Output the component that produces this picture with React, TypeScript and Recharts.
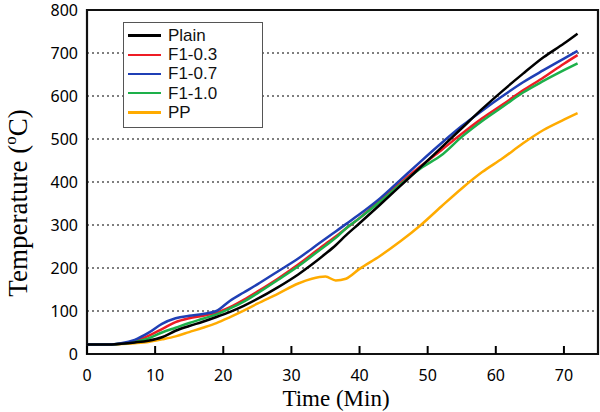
import React from "react";
import {
  CartesianGrid,
  Label,
  Legend,
  Line,
  LineChart,
  ReferenceArea,
  XAxis,
  YAxis,
} from "recharts";

// furnace time in minutes
const minutes = [
  0, 3, 5, 7, 9, 11, 13, 15, 17, 19, 21, 23, 25, 28, 31, 33, 35, 36.5, 38, 40,
  43, 46, 49, 52, 55, 58, 61, 64, 67, 70, 72,
];

// temperatures in °C
const plain = [
  22, 22, 24, 27, 31, 39, 54, 65, 75, 86, 98, 112, 128, 155, 185, 208, 233, 253,
  276, 304, 347, 391, 435, 480, 525, 570, 612, 652, 690, 722, 745,
];
const f103 = [
  22, 22, 24, 30, 42, 58, 74, 83, 89, 96, 109, 126, 145, 175, 208, 232, 256, 273,
  292, 316, 358, 398, 437, 474, 512, 548, 580, 613, 643, 675, 695,
];
const f107 = [
  22, 22, 25, 33, 49, 70, 83, 89, 93, 100, 124, 143, 162, 192, 222, 245, 268, 285,
  302, 325, 362, 405, 448, 490, 530, 566, 600, 632, 660, 687, 705,
];
const f110 = [
  22, 22, 24, 28, 36, 50, 61, 72, 82, 92, 106, 122, 141, 172, 204, 228, 252, 270,
  292, 316, 354, 394, 432, 462, 505, 542, 575, 608, 635, 660, 676,
];
const pp = [
  22, 22, 23, 25, 28, 34, 41, 51, 61, 72, 86, 101, 117, 140, 164, 175, 180, 171,
  175, 198, 228, 262, 300, 343, 385, 423, 455, 490, 521, 545, 560,
];

const series = [
  { name: "Plain", values: plain, color: "#000000" },
  { name: "F1-0.3", values: f103, color: "#ee1c25" },
  { name: "F1-0.7", values: f107, color: "#1f3fb5" },
  { name: "F1-1.0", values: f110, color: "#1db04a" },
  { name: "PP", values: pp, color: "#ffab00" },
];

// drawing order: PP underneath, Plain on top
const drawOrder = ["PP", "F1-0.3", "F1-1.0", "F1-0.7", "Plain"];

const xTicks = [0, 10, 20, 30, 40, 50, 60, 70];
const yTicks = [0, 100, 200, 300, 400, 500, 600, 700, 800];

const chartData = minutes.map((t, i) => {
  const row: Record<string, number> = { t };
  series.forEach((s) => {
    row[s.name] = s.values[i];
  });
  return row;
});

const tickFont = "'Noto Sans', sans-serif";
const titleFont = "'Liberation Serif', 'Times New Roman', serif";

const TimeTick = (props: any) => {
  const { x, y, payload } = props;
  return (
    <g>
      <line x1={x} x2={x} y1={y} y2={y - 8} stroke="#000" strokeWidth={2} />
      <text
        x={x}
        y={y + 27}
        textAnchor="middle"
        fontSize={16}
        fontFamily={tickFont}
        fill="#000"
      >
        {payload.value}
      </text>
    </g>
  );
};

const LegendBox = () => (
  <div
    style={{
      border: "1px solid #555",
      background: "#fff",
      padding: "3px 0 0 4px",
      width: 140,
      height: 106,
      boxSizing: "border-box",
    }}
  >
    {series.map((s) => (
      <div
        key={s.name}
        style={{ display: "flex", alignItems: "center", height: 19.2 }}
      >
        <span
          style={{
            display: "inline-block",
            width: 33,
            height: 2.5,
            background: s.color,
            marginRight: 7,
          }}
        />
        <span
          style={{
            fontFamily: "'Liberation Sans', Arial, sans-serif",
            fontSize: 17,
            lineHeight: "19px",
            color: "#111",
          }}
        >
          {s.name}
        </span>
      </div>
    ))}
  </div>
);

const App = () => {
  return (
    <div style={{ position: "absolute", left: 0, top: 0 }}>
      <LineChart
        width={600}
        height={412}
        data={chartData}
        margin={{ top: 10, right: 2, bottom: 0, left: 0 }}
      >
        <CartesianGrid
          vertical={false}
          stroke="#555"
          strokeWidth={1.5}
          strokeDasharray="2 3"
        />
        <XAxis
          dataKey="t"
          type="number"
          domain={[0, 75]}
          ticks={xTicks}
          height={58}
          axisLine={false}
          tickLine={false}
          tickSize={0}
          tickMargin={0}
          tick={<TimeTick />}
        >
          <Label
            content={() => (
              <text
                x={336}
                y={406}
                textAnchor="middle"
                fontSize={23}
                fontFamily={titleFont}
                fill="#000"
              >
                Time (Min)
              </text>
            )}
          />
        </XAxis>
        <YAxis
          type="number"
          domain={[0, 800]}
          ticks={yTicks}
          width={87}
          axisLine={false}
          tickLine={false}
          tickSize={0}
          tickMargin={9}
          tick={{ fontSize: 16, fontFamily: tickFont, fill: "#000" }}
        >
          <Label
            content={() => (
              <text
                x={27}
                y={203}
                transform="rotate(-90, 27, 203)"
                textAnchor="middle"
                fontSize={27}
                fontFamily={titleFont}
                fill="#000"
              >
                Temperature (
                <tspan fontSize={17} dy={-11}>
                  o
                </tspan>
                <tspan dy={11}>C)</tspan>
              </text>
            )}
          />
        </YAxis>
        {drawOrder.map((name) => {
          const s = series.find((d) => d.name === name)!;
          return (
            <Line
              key={s.name}
              type="monotone"
              dataKey={s.name}
              stroke={s.color}
              strokeWidth={2.5}
              dot={false}
              isAnimationActive={false}
            />
          );
        })}
        <ReferenceArea
          x1={0}
          x2={75}
          y1={0}
          y2={800}
          fill="none"
          stroke="#111"
          strokeWidth={2.2}
        />
        <Legend
          layout="vertical"
          align="center"
          verticalAlign="middle"
          content={<LegendBox />}
          wrapperStyle={{ left: 123, top: 22, width: 140, height: 106 }}
        />
      </LineChart>
    </div>
  );
};

export default App;
